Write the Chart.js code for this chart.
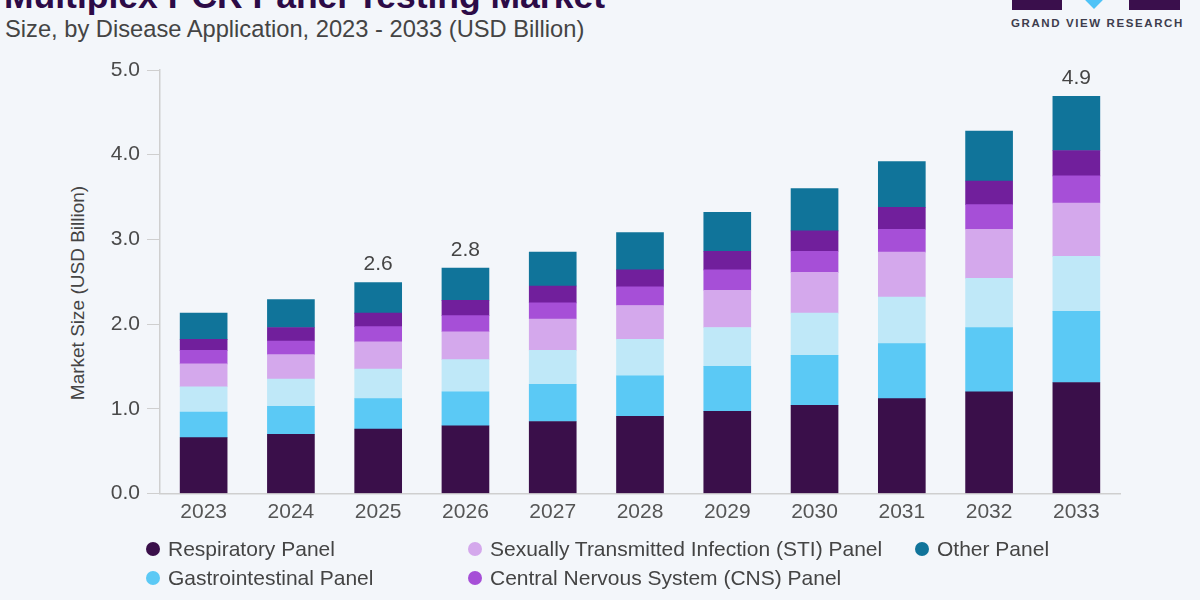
<!DOCTYPE html>
<html>
<head>
<meta charset="utf-8">
<script src="https://cdn.jsdelivr.net/npm/chart.js@4/dist/chart.umd.min.js"></script>
<style>
  html, body { margin: 0; padding: 0; }
  body {
    width: 1200px; height: 600px; overflow: hidden; position: relative;
    background: #f3f6fa; font-family: "Liberation Sans", Arial, sans-serif;
  }
  #chart { position: absolute; left: 0; top: 0; }
  .title { position: absolute; left: 4px; top: -24px; font-size: 35.5px; font-weight: bold; color: #2c0b47; white-space: nowrap; }
  .subtitle { position: absolute; left: 5px; top: 16px; font-size: 23.7px; color: #444; white-space: nowrap; }
  .ytitle { position: absolute; left: 78px; top: 293px; transform: translate(-50%, -50%) rotate(-90deg); font-size: 19px; color: #444; white-space: nowrap; }
  .legend-item { position: absolute; font-size: 21px; color: #444; white-space: nowrap; line-height: 22px; }
  .legend-item span { position: absolute; left: -22px; top: 4px; width: 14px; height: 14px; border-radius: 50%; }
  .logo-box { position: absolute; background: #3a0f4c; }
  .logo-text { position: absolute; left: 1011px; top: 17px; font-size: 11.5px; font-weight: bold; letter-spacing: 1.6px; color: #3d3d4d; white-space: nowrap; }
</style>
</head>
<body>
<div class="title">Multiplex PCR Panel Testing Market</div>
<div class="subtitle">Size, by Disease Application, 2023 - 2033 (USD Billion)</div>
<div class="ytitle">Market Size (USD Billion)</div>

<div class="logo-box" style="left:1012px; top:0; width:50px; height:10px;"></div>
<div style="position:absolute; left:1087px; top:-8px; width:14px; height:14px; background:#4fc3f7; transform:rotate(45deg);"></div>
<div class="logo-box" style="left:1129px; top:0; width:51px; height:10px;"></div>
<div class="logo-text">GRAND VIEW RESEARCH</div>

<canvas id="chart" width="1200" height="600"></canvas>
<div id="legend"></div>

<script>
// 年
const years = ['2023', '2024', '2025', '2026', '2027', '2028', '2029', '2030', '2031', '2032', '2033'];

// 各パネルの市場規模 (USD Billion)
const respiratory = [0.66, 0.70, 0.76, 0.80, 0.85, 0.91, 0.97, 1.04, 1.12, 1.20, 1.31];
const gastrointestinal = [0.30, 0.33, 0.36, 0.40, 0.44, 0.48, 0.53, 0.59, 0.65, 0.76, 0.84];
const bloodstream = [0.30, 0.32, 0.35, 0.38, 0.40, 0.43, 0.46, 0.50, 0.55, 0.58, 0.65];
const sti = [0.27, 0.29, 0.32, 0.33, 0.37, 0.40, 0.44, 0.48, 0.53, 0.58, 0.63];
const cns = [0.16, 0.16, 0.18, 0.19, 0.19, 0.22, 0.24, 0.25, 0.27, 0.29, 0.32];
const hai = [0.13, 0.16, 0.16, 0.18, 0.20, 0.20, 0.22, 0.24, 0.26, 0.28, 0.30];
const other = [0.31, 0.33, 0.36, 0.38, 0.40, 0.44, 0.46, 0.50, 0.54, 0.59, 0.64];

// 合計ラベル
const totalLabelYears = ['2025', '2026', '2033'];
const totalLabelTexts = ['2.6', '2.8', '4.9'];

// y軸目盛り
const yTicks = [0, 1, 2, 3, 4, 5];

const series = [
    { label: 'Respiratory Panel', data: respiratory, color: '#3a0f4a' },
    { label: 'Gastrointestinal Panel', data: gastrointestinal, color: '#5bc9f5' },
    { label: 'Bloodstream Infection Panel', data: bloodstream, color: '#bfe8f8' },
    { label: 'Sexually Transmitted Infection (STI) Panel', data: sti, color: '#d4a8ec' },
    { label: 'Central Nervous System (CNS) Panel', data: cns, color: '#a64fd7' },
    { label: 'Hospital-Acquired Infection Panel', data: hai, color: '#711f9c' },
    { label: 'Other Panel', data: other, color: '#10749a' },
];

// 凡例 (列ごとに並ぶ)
const legendPos = [
    [168, 538], [168, 567], [168, 604],
    [490, 538], [490, 567], [490, 604],
    [937, 538],
];
const legend = document.getElementById('legend');
series.forEach(function(s, i) {
    const item = document.createElement('div');
    item.className = 'legend-item';
    item.style.left = legendPos[i][0] + 'px';
    item.style.top = legendPos[i][1] + 'px';
    item.innerHTML = '<span style="background:' + s.color + '"></span>' + s.label;
    legend.appendChild(item);
});

// 合計値ラベルを描画
const totalLabels = {
    id: 'totalLabels',
    afterDatasetsDraw(chart) {
        const ctx = chart.ctx;
        const xScale = chart.scales.x;
        const yScale = chart.scales.y;
        ctx.save();
        ctx.font = '21px "Liberation Sans", Arial, sans-serif';
        ctx.fillStyle = '#444';
        ctx.textAlign = 'center';
        ctx.textBaseline = 'middle';
        totalLabelYears.forEach(function(year, i) {
            const idx = years.indexOf(year);
            const total = series.reduce((sum, s) => sum + s.data[idx], 0);
            const x = xScale.getPixelForValue(idx);
            const y = yScale.getPixelForValue(total) - 18;
            ctx.fillText(totalLabelTexts[i], x, y);
        });
        ctx.restore();
    }
};

new Chart(document.getElementById('chart'), {
    type: 'bar',
    data: {
        labels: years,
        datasets: series.map(s => ({
            label: s.label,
            data: s.data,
            backgroundColor: s.color,
            borderWidth: 0,
            barThickness: 47,
        }))
    },
    options: {
        responsive: false,
        animation: false,
        layout: { padding: { left: 0, top: 70, right: 80, bottom: 0 } },
        scales: {
            x: {
                stacked: true,
                afterFit: function(scale) { scale.height = 106.5; },
                grid: { display: true, color: 'transparent', drawTicks: false },
                border: { display: true, color: '#cfcfcf', width: 1.5 },
                ticks: {
                    color: '#555',
                    font: { size: 21, family: '"Liberation Sans", Arial, sans-serif' },
                    padding: 6,
                }
            },
            y: {
                stacked: true,
                min: 0,
                max: 5,
                afterFit: function(scale) { scale.width = 160; },
                afterBuildTicks: function(scale) { scale.ticks = yTicks.map(v => ({ value: v })); },
                grid: { drawOnChartArea: false, tickLength: 13, color: '#cfcfcf' },
                border: { display: true, color: '#cfcfcf', width: 1.5 },
                ticks: {
                    color: '#4a4a4a',
                    font: { size: 21, family: '"Liberation Sans", Arial, sans-serif' },
                    padding: 7,
                    callback: v => v.toFixed(1),
                }
            }
        },
        plugins: {
            legend: { display: false },
            tooltip: { enabled: false },
        }
    },
    plugins: [totalLabels]
});
</script>
</body>
</html>
